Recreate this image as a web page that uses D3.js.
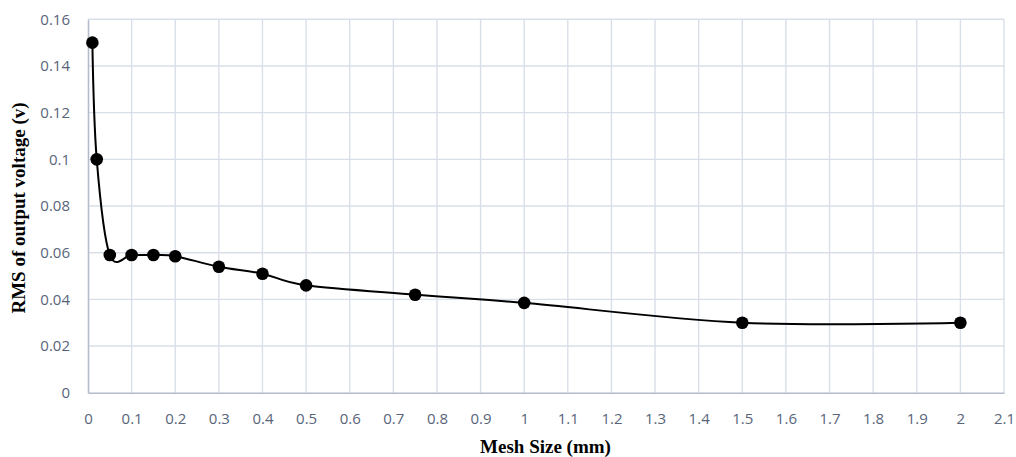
<!DOCTYPE html>
<html>
<head>
<meta charset="utf-8">
<script src="https://cdn.jsdelivr.net/npm/d3@7"></script>
<style>
  body { margin: 0; background: #fff; }
</style>
</head>
<body>
<div id="canvas"></div>
<script>
"use strict"

/* data */
let meshSize = [0.01, 0.02, 0.05, 0.1, 0.15, 0.2, 0.3, 0.4, 0.5, 0.75, 1, 1.5, 2];
let rmsVoltage = [0.15, 0.1, 0.059, 0.059, 0.059, 0.0585, 0.054, 0.051, 0.046, 0.042, 0.0385, 0.03, 0.03];
let xTicks = d3.range(0, 22).map(i => i / 10);
let yTicks = [0, 0.02, 0.04, 0.06, 0.08, 0.1, 0.12, 0.14, 0.16];

let svgWidth = 1016;
let svgHeight = 457;
let plot = { left: 88, right: 1004, top: 19.3, bottom: 392.7 };

let svg = d3.select("#canvas")
    .append("svg")
    .attr("width", svgWidth)
    .attr("height", svgHeight);

let xScale = d3.scaleLinear()
    .domain([0, 2.1])
    .range([plot.left, plot.right]);

let yScale = d3.scaleLinear()
    .domain([0, 0.16])
    .range([plot.bottom, plot.top]);

// grid lines
svg.append("g")
    .selectAll("line")
    .data(xTicks.slice(1))
    .join("line")
    .attr("x1", d => xScale(d))
    .attr("x2", d => xScale(d))
    .attr("y1", plot.top)
    .attr("y2", plot.bottom)
    .attr("stroke", "#d9dfe9")
    .attr("stroke-width", 1.4);

svg.append("g")
    .selectAll("line")
    .data(yTicks.slice(1))
    .join("line")
    .attr("x1", plot.left)
    .attr("x2", plot.right)
    .attr("y1", d => yScale(d))
    .attr("y2", d => yScale(d))
    .attr("stroke", "#d9dfe9")
    .attr("stroke-width", 1.4);

// axes
let xAxis = svg.append("g")
    .attr("transform", "translate(0," + plot.bottom + ")")
    .call(d3.axisBottom(xScale).tickValues(xTicks).tickSize(0).tickPadding(20.5).tickFormat(d => String(d)));

let yAxis = svg.append("g")
    .attr("transform", "translate(" + plot.left + ",0)")
    .call(d3.axisLeft(yScale).tickValues(yTicks).tickSize(0).tickPadding(18).tickFormat(d => String(d)));

[xAxis, yAxis].forEach(ax => {
    ax.select(".domain").attr("stroke", "#b4bccb").attr("stroke-width", 1.6);
    ax.selectAll("text")
        .attr("fill", "#586479")
        .style("font-family", "'Open Sans', sans-serif")
        .style("font-size", "15px");
});

// smoothed line
let line = d3.line()
    .x(d => xScale(d[0]))
    .y(d => yScale(d[1]))
    .curve(d3.curveCardinal.tension(0));

let points = meshSize.map((m, i) => [m, rmsVoltage[i]]);

svg.append("path")
    .datum(points)
    .attr("d", line)
    .attr("fill", "none")
    .attr("stroke", "#000")
    .attr("stroke-width", 2);

svg.append("g")
    .selectAll("circle")
    .data(points)
    .join("circle")
    .attr("cx", d => xScale(d[0]))
    .attr("cy", d => yScale(d[1]))
    .attr("r", 6.3)
    .attr("fill", "#000");

// axis titles
svg.append("text")
    .attr("x", 545.5)
    .attr("y", 453)
    .attr("text-anchor", "middle")
    .style("font-family", "'Liberation Serif', serif")
    .style("font-weight", "bold")
    .style("font-size", "19px")
    .text("Mesh Size (mm)");

svg.append("text")
    .attr("transform", "translate(25,208) rotate(-90)")
    .attr("text-anchor", "middle")
    .style("font-family", "'Liberation Serif', serif")
    .style("font-weight", "bold")
    .style("font-size", "19px")
    .text("RMS of output voltage (v)");
</script>
</body>
</html>
